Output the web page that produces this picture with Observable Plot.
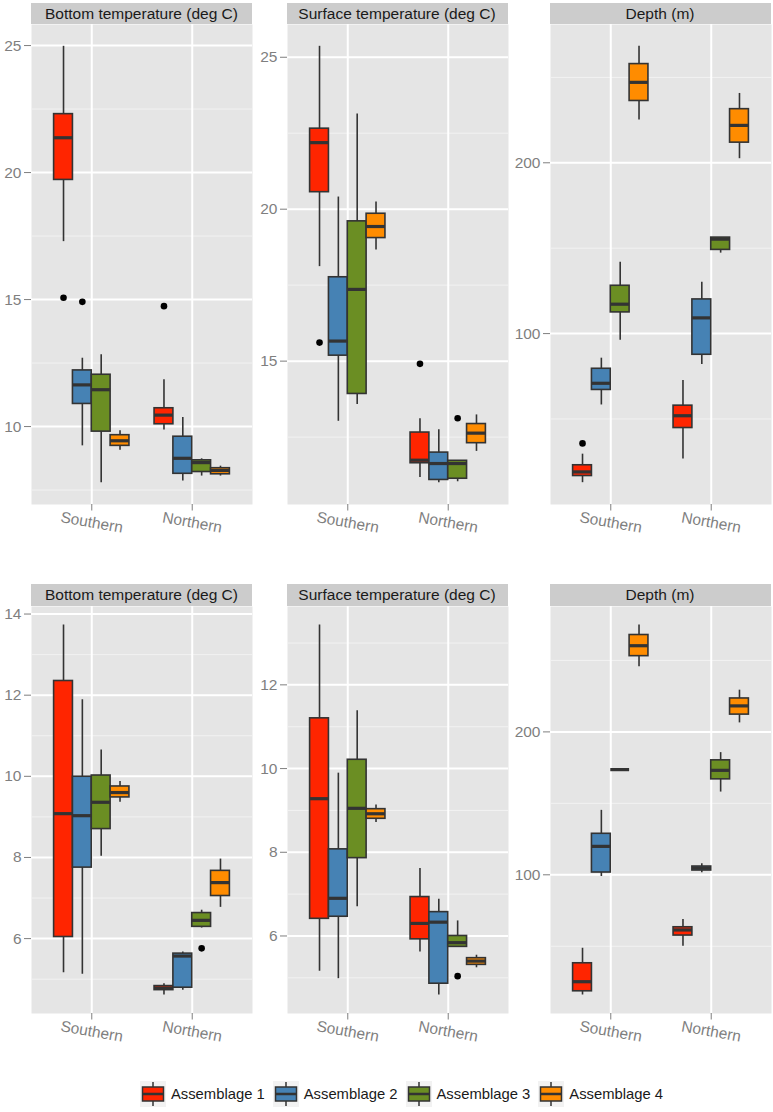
<!DOCTYPE html>
<html>
<head>
<meta charset="utf-8">
<script src="https://cdn.jsdelivr.net/npm/d3@7"></script>
<script src="https://cdn.jsdelivr.net/npm/@observablehq/plot@0.6"></script>
<style>
  body { margin: 0; background: #fff; font-family: "Liberation Sans", Arial, sans-serif; }
  #root { position: relative; width: 773px; height: 1112px; overflow: hidden; background: #fff; }
  .strip { position: absolute; background: #CCCCCC; color: #1a1a1a; font-size: 15.5px;
           display: flex; align-items: center; justify-content: center; white-space: nowrap; }
  .panel { position: absolute; }
  #legend { position: absolute; left: 0; width: 773px; top: 1081px; height: 26px;
            display: flex; justify-content: center; align-items: center; font-size: 14.8px; color: #1a1a1a; }
  #legendInner { display: flex; align-items: center; position: relative; left: 15px; }
  .item { display: flex; align-items: center; margin: 0 4px; }
  .item svg { margin-right: 5px; display: block; }
</style>
</head>
<body>
<div id="root"><div id="legend"><div id="legendInner"></div></div></div>
<script>
// ---------- data ----------
const regions = ["Southern", "Northern"];
const assemblages = ["Assemblage 1", "Assemblage 2", "Assemblage 3", "Assemblage 4"];
const palette = ["#FF2500", "#4682B4", "#6B8E23", "#FF8C00"];

// each row: [lower whisker, Q1, median, Q3, upper whisker]
// rows: Southern A1..A4, then Northern A1..A4
const bottomTempTop = [
  [17.28, 19.71, 21.37, 22.30, 24.97],
  [9.24, 10.89, 11.64, 12.21, 12.69],
  [7.79, 9.80, 11.45, 12.04, 12.83],
  [9.07, 9.24, 9.44, 9.66, 9.83],
  [9.86, 10.09, 10.45, 10.72, 11.84],
  [7.86, 8.14, 8.75, 9.60, 10.36],
  [8.05, 8.21, 8.58, 8.67, 8.73],
  [8.05, 8.12, 8.27, 8.36, 8.44]
];
const bottomTempTopOutliers = [
  ["Southern", "Assemblage 1", 15.07],
  ["Southern", "Assemblage 2", 14.91],
  ["Northern", "Assemblage 1", 14.74]
];
const surfaceTempTop = [
  [18.11, 20.56, 22.19, 22.65, 25.36],
  [13.02, 15.18, 15.66, 17.76, 20.40],
  [13.57, 13.92, 17.36, 19.60, 23.13],
  [18.66, 19.05, 19.43, 19.85, 20.24],
  [11.17, 11.64, 11.74, 12.65, 13.10],
  [11.00, 11.09, 11.63, 11.99, 12.74],
  [11.03, 11.13, 11.63, 11.72, 11.72],
  [12.03, 12.30, 12.63, 12.93, 13.23]
];
const surfaceTempTopOutliers = [
  ["Southern", "Assemblage 1", 15.61],
  ["Northern", "Assemblage 1", 14.91],
  ["Northern", "Assemblage 3", 13.12]
];
const depthTop = [
  [12.7, 16.6, 19.0, 22.9, 29.4],
  [58.2, 67.0, 70.9, 79.4, 85.6],
  [96.1, 112.4, 117.2, 128.0, 141.8],
  [225.1, 236.2, 247.1, 257.8, 268.2],
  [26.5, 44.7, 51.9, 57.8, 72.5],
  [81.9, 87.6, 109.2, 120.0, 130.0],
  [147.1, 149.0, 155.3, 156.2, 156.2],
  [202.4, 211.8, 221.9, 231.4, 240.6]
];
const depthTopOutliers = [
  ["Southern", "Assemblage 1", 35.7]
];
const bottomTempBottom = [
  [5.16, 6.04, 9.08, 12.35, 13.73],
  [5.12, 7.75, 9.03, 9.99, 11.89],
  [8.03, 8.70, 9.36, 10.02, 10.65],
  [9.36, 9.48, 9.60, 9.75, 9.87],
  [4.61, 4.73, 4.78, 4.83, 4.89],
  [4.73, 4.79, 5.57, 5.63, 5.67],
  [6.26, 6.29, 6.45, 6.63, 6.70],
  [6.77, 7.05, 7.38, 7.67, 7.96]
];
const bottomTempBottomOutliers = [
  ["Northern", "Assemblage 3", 5.76]
];
const surfaceTempBottom = [
  [5.16, 6.41, 9.28, 11.20, 13.43],
  [4.98, 6.46, 6.90, 8.07, 9.89],
  [6.70, 7.86, 9.05, 10.21, 11.38],
  [8.71, 8.80, 8.92, 9.03, 9.13],
  [5.62, 5.92, 6.30, 6.93, 7.61],
  [4.59, 4.86, 6.33, 6.57, 6.88],
  [5.74, 5.74, 5.84, 6.00, 6.36],
  [5.24, 5.31, 5.40, 5.47, 5.54]
];
const surfaceTempBottomOutliers = [
  ["Northern", "Assemblage 3", 5.04]
];
const depthBottom = [
  [15.9, 18.5, 25.2, 38.1, 48.6],
  [98.8, 101.6, 119.9, 128.7, 145.1],
  [173.6, 173.6, 173.6, 173.6, 173.6],
  [245.6, 253.0, 260.3, 267.8, 274.8],
  [50.0, 57.5, 61.4, 63.3, 68.7],
  [101.4, 103.0, 104.7, 105.8, 107.7],
  [157.9, 166.8, 173.1, 180.1, 185.5],
  [206.3, 212.1, 218.2, 223.4, 229.2]
];
const depthBottomOutliers = [];

// tick labels
const ticksBottomTempTop = [10, 15, 20, 25];
const ticksSurfaceTempTop = [15, 20, 25];
const ticksDepthTop = [100, 200];
const ticksBottomTempBottom = [6, 8, 10, 12, 14];
const ticksSurfaceTempBottom = [6, 8, 10, 12];
const ticksDepthBottom = [100, 200];

const titles = ["Bottom temperature (deg C)", "Surface temperature (deg C)", "Depth (m)"];

// ---------- layout ----------
const colX = [31, 286.5, 549.5];
const PW = 221, ML = 40, MB = 45;
const rowsLayout = [
  {stripTop: 3, panelTop: 24, panelH: 480},
  {stripTop: 583.5, panelTop: 606, panelH: 407}
];

const panels = [
  {row: 0, col: 0, stats: bottomTempTop, outliers: bottomTempTopOutliers, ticks: ticksBottomTempTop},
  {row: 0, col: 1, stats: surfaceTempTop, outliers: surfaceTempTopOutliers, ticks: ticksSurfaceTempTop},
  {row: 0, col: 2, stats: depthTop, outliers: depthTopOutliers, ticks: ticksDepthTop},
  {row: 1, col: 0, stats: bottomTempBottom, outliers: bottomTempBottomOutliers, ticks: ticksBottomTempBottom},
  {row: 1, col: 1, stats: surfaceTempBottom, outliers: surfaceTempBottomOutliers, ticks: ticksSurfaceTempBottom},
  {row: 1, col: 2, stats: depthBottom, outliers: depthBottomOutliers, ticks: ticksDepthBottom}
];

const dodge = 0.75 / assemblages.length;
const cx = d => regions.indexOf(d.region) + 1 + (assemblages.indexOf(d.assemblage) - (assemblages.length - 1) / 2) * dodge;
const DARK = "#333333";
const GREY = "#7F7F7F";

function panelPlot(p, innerH) {
  const rows = p.stats.map((s, i) => ({
    region: regions[Math.floor(i / assemblages.length)],
    assemblage: assemblages[i % assemblages.length],
    lo: s[0], q1: s[1], med: s[2], q3: s[3], hi: s[4]
  }));
  const outs = p.outliers.map(([region, assemblage, v]) => ({region, assemblage, v}));
  const all = rows.flatMap(r => [r.lo, r.hi]).concat(outs.map(o => o.v));
  const lo = d3.min(all), hi = d3.max(all), pad = (hi - lo) * 0.05;
  const ticks = p.ticks;
  const step = ticks[1] - ticks[0];
  const minor = d3.range(ticks[0] - step / 2, ticks[ticks.length - 1] + step, step)
    .filter(v => v >= lo - pad && v <= hi + pad);
  return Plot.plot({
    width: ML + PW,
    height: innerH + MB,
    marginLeft: ML, marginRight: 0, marginTop: 0, marginBottom: MB,
    style: {fontFamily: "'Liberation Sans', Arial, sans-serif", fontSize: "15.5px", background: "transparent", overflow: "visible"},
    x: {domain: [0.4, 2.6], axis: null},
    y: {domain: [lo - pad, hi + pad], axis: null},
    color: {domain: assemblages, range: palette},
    marks: [
      Plot.frame({fill: "#E5E5E5", stroke: null}),
      Plot.gridY({ticks: minor, stroke: "#F2F2F2", strokeOpacity: 1, strokeWidth: 1}),
      Plot.gridY({ticks: ticks, stroke: "#ffffff", strokeOpacity: 1, strokeWidth: 2}),
      Plot.gridX({ticks: [1, 2], stroke: "#ffffff", strokeOpacity: 1, strokeWidth: 2}),
      Plot.ruleX(rows, {x: cx, y1: "lo", y2: "hi", stroke: DARK, strokeWidth: 1.6}),
      Plot.rect(rows, {x1: d => cx(d) - dodge / 2, x2: d => cx(d) + dodge / 2, y1: "q1", y2: "q3",
                       fill: "assemblage", stroke: DARK, strokeWidth: 1.6}),
      Plot.ruleY(rows, {x1: d => cx(d) - dodge / 2, x2: d => cx(d) + dodge / 2, y: "med", stroke: DARK, strokeWidth: 3.2}),
      Plot.dot(outs, {x: cx, y: "v", r: 3.3, fill: "black", stroke: null}),
      Plot.axisY({ticks: ticks, tickSize: 7, tickPadding: 3, color: GREY, fontSize: 15.5, tickFormat: d => String(d)}),
      Plot.axisX({ticks: [1, 2], tickSize: 6.5, color: GREY, tickFormat: () => ""}),
      Plot.text(regions, {x: (d, i) => i + 1, text: d => d, frameAnchor: "bottom", dy: 18, rotate: 10,
                          textAnchor: "middle", lineAnchor: "middle", fill: GREY, fontSize: 15.5})
    ]
  });
}

const root = document.getElementById("root");
for (const p of panels) {
  const L = rowsLayout[p.row];
  const strip = document.createElement("div");
  strip.className = "strip";
  strip.textContent = titles[p.col];
  strip.style.left = colX[p.col] + "px";
  strip.style.top = L.stripTop + "px";
  strip.style.width = PW + "px";
  strip.style.height = (L.panelTop - L.stripTop) + "px";
  root.appendChild(strip);

  const wrap = document.createElement("div");
  wrap.className = "panel";
  wrap.style.left = (colX[p.col] - ML) + "px";
  wrap.style.top = L.panelTop + "px";
  wrap.appendChild(panelPlot(p, L.panelH));
  root.appendChild(wrap);
}

// ---------- legend ----------
const legend = d3.select("#legendInner");
assemblages.forEach((a, i) => {
  const item = legend.append("div").attr("class", "item");
  const svg = item.append("svg").attr("width", 26).attr("height", 26);
  svg.append("rect").attr("width", 26).attr("height", 26).attr("fill", "#F2F2F2");
  svg.append("line").attr("x1", 13).attr("x2", 13).attr("y1", 1).attr("y2", 25).attr("stroke", DARK).attr("stroke-width", 1.5);
  svg.append("rect").attr("x", 2.5).attr("y", 6).attr("width", 21).attr("height", 14)
     .attr("fill", palette[i]).attr("stroke", DARK).attr("stroke-width", 1.5);
  svg.append("line").attr("x1", 2.5).attr("x2", 23.5).attr("y1", 13).attr("y2", 13).attr("stroke", DARK).attr("stroke-width", 2.5);
  item.append("span").text(a);
});
</script>
</body>
</html>
